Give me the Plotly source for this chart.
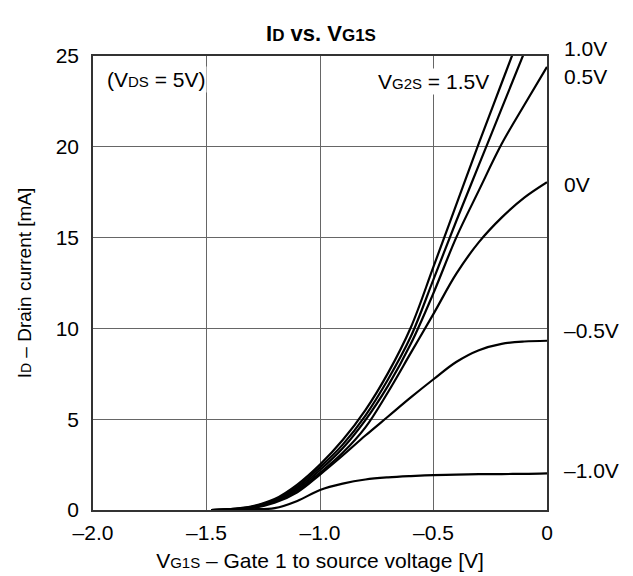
import plotly.graph_objects as go

# ---- data ----
vg1s = [-1.48, -1.4, -1.3, -1.2, -1.1, -1.0, -0.9, -0.8, -0.7, -0.6, -0.5, -0.4, -0.3, -0.2, -0.1, 0.0]

id_15 = [0.0, 0.05, 0.2, 0.6, 1.4, 2.5, 3.85, 5.5, 7.55, 10.05, 13.4, 16.8, 20.2, 23.5, 26.8, None]
id_10 = [0.0, 0.04, 0.18, 0.55, 1.28, 2.35, 3.6, 5.2, 7.2, 9.55, 12.7, 15.9, 19.0, 22.1, 25.2, None]
id_05 = [0.0, 0.03, 0.15, 0.5, 1.18, 2.2, 3.4, 4.95, 6.85, 9.15, 11.95, 15.0, 17.6, 20.15, 22.3, 24.4]
id_00 = [0.0, 0.03, 0.13, 0.46, 1.08, 2.05, 3.15, 4.55, 6.5, 8.65, 10.8, 13.0, 14.75, 16.1, 17.2, 18.05]
id_m05 = [0.0, 0.02, 0.1, 0.4, 0.98, 1.95, 3.0, 4.1, 5.15, 6.2, 7.2, 8.15, 8.8, 9.15, 9.28, 9.32]
id_m10 = [0.0, 0.01, 0.04, 0.1, 0.5, 1.1, 1.45, 1.68, 1.8, 1.87, 1.92, 1.95, 1.97, 1.98, 1.99, 2.02]

series = [id_15, id_10, id_05, id_00, id_m05, id_m10]

right_labels = ["1.0V", "0.5V", "0V", "\u20130.5V", "\u20131.0V"]
right_label_y = [25.4, 23.85, 17.95, 9.86, 2.2]

x_ticks = [-2.0, -1.5, -1.0, -0.5, 0.0]
x_ticktext = ["\u20132.0", "\u20131.5", "\u20131.0", "\u20130.5", "0"]
y_ticks = [0, 5, 10, 15, 20, 25]
y_max = 25

FONT = "Liberation Sans, Arial, sans-serif"
FS = 21
small = "<span style='font-size:15px'>{}</span>"

W, H = 625, 568
L, R, T, B = 85, 86, 48, 66

fig = go.Figure()
for s in series:
    xs = [x for x, y in zip(vg1s, s) if y is not None]
    ys = [y for y in s if y is not None]
    fig.add_trace(go.Scatter(x=xs, y=ys, mode="lines",
                             line=dict(color="black", width=2.2, shape="spline", smoothing=1.0),
                             showlegend=False, hoverinfo="skip"))

for txt, yv in zip(right_labels, right_label_y):
    fig.add_annotation(x=1, xref="paper", y=yv / y_max, yref="paper", text=txt, showarrow=False,
                       xanchor="left", yanchor="middle", xshift=15,
                       font=dict(size=FS, color="black", family=FONT))

fig.add_annotation(x=-1.945, y=23.7, xref="x", yref="y", xanchor="left",
                   text="(V" + small.format("DS") + " = 5V)", showarrow=False,
                   bgcolor="white", font=dict(size=FS, color="black", family=FONT))
fig.add_annotation(x=-0.245, y=23.6, xref="x", yref="y", xanchor="right",
                   text="V" + small.format("G2S") + " = 1.5V", showarrow=False,
                   bgcolor="white", font=dict(size=FS, color="black", family=FONT))

fig.update_layout(
    width=W, height=H,
    margin=dict(l=L, r=R, t=T, b=B),
    paper_bgcolor="white", plot_bgcolor="white",
    font=dict(family=FONT, size=FS, color="black"),
    title=dict(text="<b>I<span style='font-size:17px'>D</span> vs. V<span style='font-size:17px'>G1S</span></b>",
               x=313 / W, xanchor="center", y=1 - 25 / H, yanchor="middle",
               font=dict(size=22, family=FONT, color="black")),
    xaxis=dict(range=[-2, 0], tickvals=x_ticks, ticktext=x_ticktext,
               showgrid=True, gridcolor="#666666", gridwidth=1,
               showline=True, linecolor="#333333", linewidth=1.6, mirror=True,
               zeroline=False, ticks="", ticklabelstandoff=3, automargin=False,
               title=dict(text="V" + small.format("G1S") + " \u2013 Gate 1 to source voltage [V]",
                          font=dict(size=FS, family=FONT), standoff=10)),
    yaxis=dict(range=[0, y_max], tickvals=y_ticks,
               showgrid=True, gridcolor="#666666", gridwidth=1,
               showline=True, linecolor="#333333", linewidth=1.6, mirror=True,
               zeroline=False, ticks="", ticklabelstandoff=8, automargin=False,
               title=dict(text="I<span style='font-size:14px'>D</span> \u2013 Drain current [mA]",
                          font=dict(size=19, family=FONT), standoff=19)),
)

fig.write_html("out.html")
